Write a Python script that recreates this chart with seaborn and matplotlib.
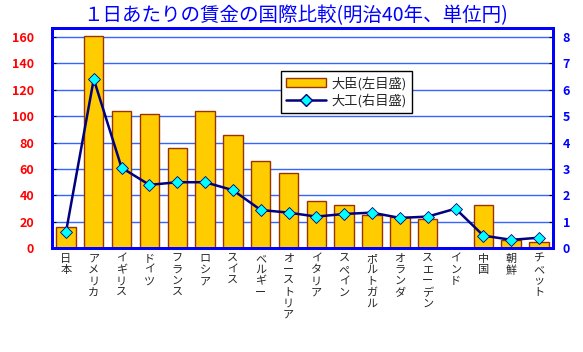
import numpy as np
import pandas as pd
import matplotlib
matplotlib.use("Agg")
import matplotlib.pyplot as plt
import seaborn as sns
from matplotlib.patches import Patch
from matplotlib.lines import Line2D

# データ（明治40年、1日あたりの賃金、単位円）
countries = ["日本", "アメリカ", "イギリス", "ドイツ", "フランス", "ロシア", "スイス",
             "ベルギー", "オーストリア", "イタリア", "スペイン", "ポルトガル", "オランダ",
             "スエーデン", "インド", "中国", "朝鮮", "チベット"]
daijin = [16, 161, 104, 102, 76, 104, 86, 66, 57, 36, 33, 25, 24, 22, 0, 33, 6, 5]
daiku = [0.6, 6.4, 3.05, 2.4, 2.5, 2.5, 2.2, 1.45, 1.35, 1.2, 1.3, 1.35, 1.15, 1.2,
         1.5, 0.48, 0.32, 0.4]
left_ticks = [0, 20, 40, 60, 80, 100, 120, 140, 160]
right_ticks = [0, 1, 2, 3, 4, 5, 6, 7, 8]

df = pd.DataFrame({"国": countries, "大臣": daijin, "大工": daiku})

sns.set_style("white")
plt.rcParams['font.family'] = ['Noto Sans CJK JP', 'DejaVu Sans']

fig = plt.figure(figsize=(5.83, 3.52), dpi=100)
ax = fig.add_axes([0.0892, 0.2946, 0.8593, 0.625])

sns.barplot(data=df, x="国", y="大臣", color="#FFCC00", saturation=1, width=0.7,
            edgecolor="#993300", linewidth=1, ax=ax)
ax.set_ylim(0, 166.5)
ax.set_yticks(left_ticks)
ax.yaxis.grid(True, color="#3366FF", linewidth=1)
ax.set_axisbelow(True)
ax.set_xlim(-0.5, len(countries) - 0.5)
ax.set_xlabel("")
ax.set_ylabel("")
ax.set_xticks(range(len(countries)))
ax.set_xticklabels(["\n".join(c) for c in countries], fontsize=8, linespacing=1.15,
                   va="top")
ax.tick_params(axis="x", length=0, pad=4)
ax.tick_params(axis="y", direction="in", length=3, color="#000000", pad=13,
               labelcolor="#FF0000", labelsize=9)
for lb in ax.get_yticklabels():
    lb.set_fontweight("bold")

ax2 = ax.twinx()
sns.lineplot(data=df, x="国", y="大工", sort=False, color="#000080", linewidth=1.8,
             marker="D", markersize=6, markerfacecolor="#00FFFF",
             markeredgecolor="#000080", markeredgewidth=0.6, ax=ax2)
ax2.set_ylim(0, 8.325)
ax2.set_yticks(right_ticks)
ax2.set_ylabel("")
ax2.tick_params(axis="y", direction="in", length=3, color="#000000", pad=7,
                labelcolor="#0000FF", labelsize=9)
for lb in ax2.get_yticklabels():
    lb.set_fontweight("bold")

for a in (ax, ax2):
    for s in a.spines.values():
        s.set_color("#0000FF")
        s.set_linewidth(2)

handles = [Patch(facecolor="#FFCC00", edgecolor="#993300", linewidth=1),
           Line2D([0], [0], color="#000080", linewidth=1.8, marker="D", markersize=6,
                  markerfacecolor="#00FFFF", markeredgecolor="#000080")]
leg = ax2.legend(handles, ["大臣(左目盛)", "大工(右目盛)"], loc="upper left",
                 bbox_to_anchor=(0.457, 0.806), borderaxespad=0, fontsize=9.5,
                 frameon=True, fancybox=False, framealpha=1, edgecolor="black",
                 handlelength=3, borderpad=0.4, labelspacing=0.3, handletextpad=0.4)
leg.get_frame().set_linewidth(1)

fig.text(0.507, 0.955, "１日あたりの賃金の国際比較(明治40年、単位円)", color="#0000FF",
         fontsize=14, ha="center", va="center")

fig.savefig("out.png", dpi=100)
